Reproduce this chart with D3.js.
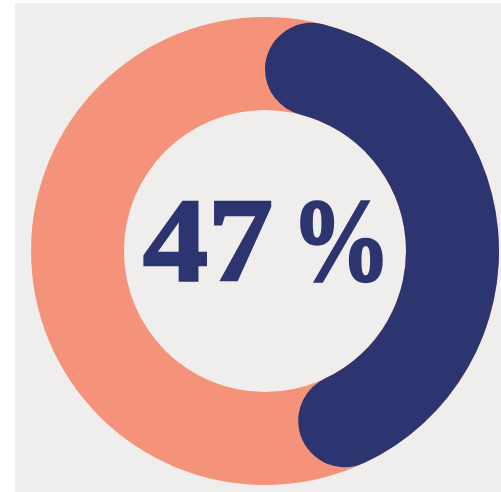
<!DOCTYPE html>
<html>
<head>
<meta charset="utf-8">
<script src="https://cdn.jsdelivr.net/npm/d3@7"></script>
<style>
  html, body { margin: 0; padding: 0; background: #ffffff; }
  svg { display: block; }
</style>
</head>
<body>
<svg id="chart" width="501" height="492"></svg>
<script>
const categories = ["Yes", "Rest"];
const values = [47, 53];
const labelNumber = "47";
const labelUnit = "%";

const W = 501, H = 492;
const cx = 265, cy = 251, outerR = 234, innerR = 141;
const colors = { Yes: "#2d3571", Rest: "#f4937a" };

const svg = d3.select("#chart");
svg.append("rect").attr("x", 15).attr("y", 3).attr("width", W - 15).attr("height", H - 3).attr("fill", "#efeeec");

const g = svg.append("g").attr("transform", `translate(${cx},${cy})`);

const total = d3.sum(values);
const angle = d3.scaleLinear().domain([0, total]).range([0, 2 * Math.PI]);

// background ring (full salmon)
const ringArc = d3.arc().innerRadius(innerR).outerRadius(outerR);
g.append("path")
  .attr("d", ringArc({ startAngle: 0, endAngle: 2 * Math.PI }))
  .attr("fill", colors.Rest);

// value arc with rounded ends
const valArc = d3.arc().innerRadius(innerR).outerRadius(outerR).cornerRadius((outerR - innerR) / 2);
g.append("path")
  .attr("d", valArc({ startAngle: angle(0), endAngle: angle(values[0]) }))
  .attr("fill", colors.Yes);

const label = g.append("text")
  .attr("y", 29)
  .attr("font-family", "'Liberation Serif', 'DejaVu Serif', serif")
  .attr("font-weight", 900)
  .attr("fill", colors.Yes)
  .attr("stroke", colors.Yes)
  .attr("stroke-width", 2.5)
  .attr("stroke-linejoin", "miter");

label.append("tspan")
  .attr("x", -122)
  .attr("font-size", 119)
  .attr("textLength", 130)
  .attr("lengthAdjust", "spacingAndGlyphs")
  .text(labelNumber);

label.append("tspan")
  .attr("x", 26)
  .attr("font-size", 119)
  .attr("textLength", 100)
  .attr("lengthAdjust", "spacingAndGlyphs")
  .text(labelUnit);
</script>
</body>
</html>
